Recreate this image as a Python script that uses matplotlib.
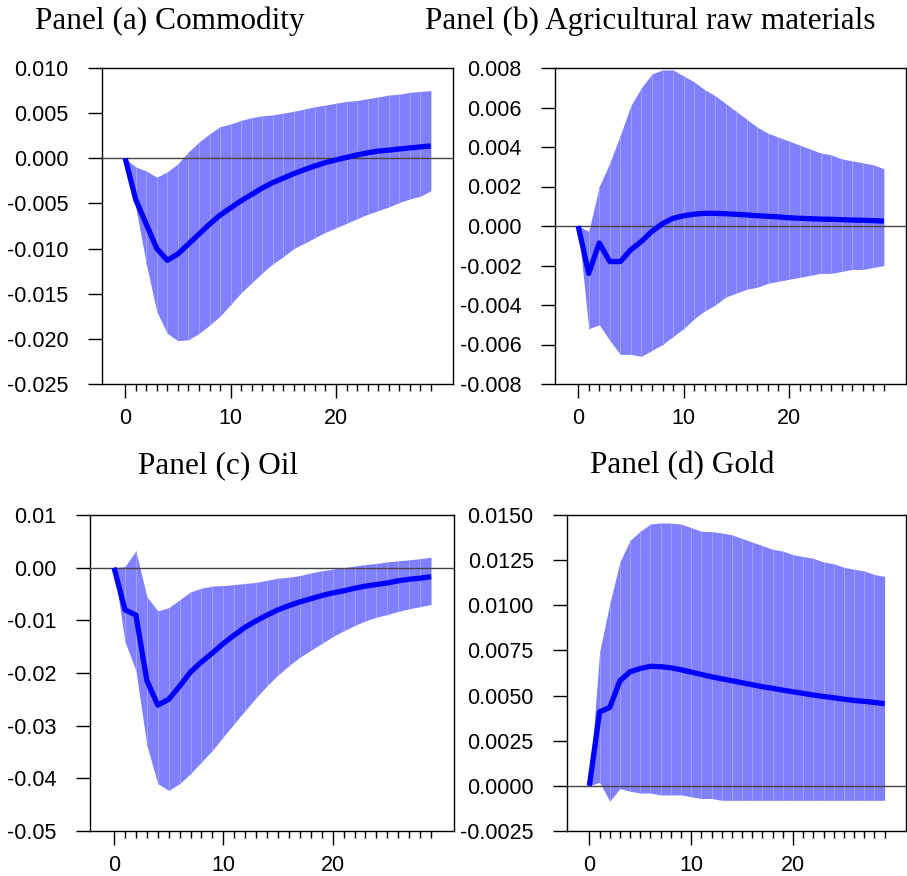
import matplotlib
matplotlib.use("Agg")
import matplotlib.pyplot as plt
import numpy as np

steps = list(range(30))

titles = ["Panel (a) Commodity", "Panel (b) Agricultural raw materials",
          "Panel (c) Oil", "Panel (d) Gold"]

a_mid = [0, -0.00458, -0.0073, -0.0100, -0.0113, -0.0106, -0.0095, -0.0084, -0.0073, -0.0063,
         -0.0055, -0.0047, -0.0040, -0.0033, -0.0027, -0.0022, -0.0017, -0.00126, -0.00085, -0.00048,
         -0.00018, 0.0001, 0.00037, 0.0006, 0.0008, 0.0009, 0.00103, 0.00115, 0.00126, 0.00137]
a_up = [0, -0.00096, -0.0014, -0.0021, -0.0015, -0.0006, 0.0007, 0.0018, 0.0027, 0.0035,
        0.0038, 0.0042, 0.0045, 0.0047, 0.0048, 0.0050, 0.0052, 0.00545, 0.0057, 0.0059,
        0.0061, 0.0063, 0.0064, 0.0066, 0.0068, 0.0070, 0.0071, 0.0073, 0.0074, 0.0075]
a_lo = [0, -0.0054, -0.0117, -0.0170, -0.0194, -0.0202, -0.0201, -0.0194, -0.0185, -0.0175,
        -0.0162, -0.0149, -0.0138, -0.0127, -0.0117, -0.0109, -0.0100, -0.0094, -0.0088, -0.0082,
        -0.0077, -0.0072, -0.0067, -0.0062, -0.0058, -0.0054, -0.0049, -0.0045, -0.0042, -0.0036]

b_mid = [0, -0.0024, -0.00086, -0.0018, -0.0018, -0.0012, -0.00078, -0.00027, 0.00012, 0.00039,
         0.00052, 0.0006, 0.00064, 0.00064, 0.00062, 0.00059, 0.00056, 0.00052, 0.00049, 0.00046,
         0.00042, 0.00039, 0.00037, 0.00035, 0.00034, 0.00032, 0.0003, 0.00029, 0.00027, 0.00025]
b_up = [0, -0.00027, 0.0020, 0.0032, 0.0046, 0.0061, 0.0070, 0.0077, 0.0079, 0.0079,
        0.0076, 0.0073, 0.0069, 0.0066, 0.0062, 0.0058, 0.0054, 0.0050, 0.0047, 0.0045,
        0.0043, 0.0041, 0.0039, 0.0037, 0.0036, 0.0034, 0.0033, 0.0032, 0.0031, 0.0029]
b_lo = [0, -0.0052, -0.0050, -0.0058, -0.0065, -0.0065, -0.0066, -0.0063, -0.0060, -0.0056,
        -0.0052, -0.0047, -0.0043, -0.0040, -0.0036, -0.0034, -0.0032, -0.0031, -0.0029, -0.0028,
        -0.0027, -0.0026, -0.0025, -0.0024, -0.0024, -0.0023, -0.0022, -0.0022, -0.0021, -0.0020]

c_mid = [0, -0.0080, -0.0090, -0.0214, -0.0261, -0.0250, -0.0225, -0.0198, -0.0179, -0.0162,
         -0.0144, -0.0128, -0.0113, -0.0101, -0.0090, -0.0080, -0.0072, -0.0065, -0.0059, -0.0053,
         -0.0048, -0.0044, -0.0039, -0.0035, -0.0032, -0.0029, -0.0025, -0.0022, -0.0020, -0.0017]
c_up = [0, 0.0002, 0.0032, -0.0055, -0.0082, -0.0076, -0.0061, -0.0046, -0.0039, -0.0035,
        -0.0034, -0.0032, -0.0030, -0.0028, -0.0024, -0.0020, -0.0018, -0.0015, -0.0010, -0.0006,
        -0.0003, 0.0, 0.0003, 0.0006, 0.0008, 0.0011, 0.0013, 0.0015, 0.0017, 0.0020]
c_lo = [0, -0.0141, -0.0195, -0.0337, -0.0410, -0.0423, -0.0410, -0.0391, -0.0369, -0.0347,
        -0.0321, -0.0296, -0.0271, -0.0247, -0.0224, -0.0204, -0.0186, -0.0170, -0.0157, -0.0144,
        -0.0131, -0.0120, -0.0110, -0.0101, -0.0094, -0.0089, -0.0083, -0.0078, -0.0074, -0.0070]

d_mid = [0, 0.00410, 0.00434, 0.00582, 0.00632, 0.00650, 0.00662, 0.00660, 0.00654, 0.00643,
         0.00630, 0.00617, 0.00604, 0.00593, 0.00582, 0.00571, 0.00560, 0.00549, 0.00540, 0.00530,
         0.00521, 0.00512, 0.00503, 0.00495, 0.00488, 0.00480, 0.00473, 0.00468, 0.00462, 0.00455]
d_up = [0, 0.0074, 0.0101, 0.0124, 0.0136, 0.0141, 0.0145, 0.01456, 0.01455, 0.0145,
        0.0143, 0.0141, 0.01408, 0.0140, 0.0139, 0.0137, 0.0135, 0.0133, 0.0131, 0.0130,
        0.0128, 0.0127, 0.0126, 0.0124, 0.0123, 0.0121, 0.0120, 0.0119, 0.0117, 0.0116]
d_lo = [0, 0.0002, -0.00085, -0.00015, -0.0003, -0.0004, -0.0004, -0.0005, -0.0005, -0.0005,
        -0.0006, -0.0007, -0.0007, -0.0008, -0.0008, -0.0008, -0.0008, -0.0008, -0.0008, -0.0008,
        -0.0008, -0.0008, -0.0008, -0.0008, -0.0008, -0.0008, -0.0008, -0.0008, -0.0008, -0.0008]

ytick_sets = [
    (["0.010", "0.005", "0.000", "-0.005", "-0.010", "-0.015", "-0.020", "-0.025"]),
    (["0.008", "0.006", "0.004", "0.002", "0.000", "-0.002", "-0.004", "-0.006", "-0.008"]),
    (["0.01", "0.00", "-0.01", "-0.02", "-0.03", "-0.04", "-0.05"]),
    (["0.0150", "0.0125", "0.0100", "0.0075", "0.0050", "0.0025", "0.0000", "-0.0025"]),
]
xtick_labels = ["0", "10", "20"]

series = [(a_mid, a_up, a_lo), (b_mid, b_up, b_lo), (c_mid, c_up, c_lo), (d_mid, d_up, d_lo)]

W, H = 907, 876
fig = plt.figure(figsize=(W / 100, H / 100), dpi=100)

# axes boxes in pixels: left, right, top, bottom
boxes = [(102, 453, 68, 384), (555, 906, 68, 384), (90, 454, 515, 831), (567, 906, 515, 831)]
title_pos = [(170, 21), (650, 21), (218, 466), (682, 466)]

for i, ((mid, up, lo), (l, r, t, b), labels) in enumerate(zip(series, boxes, ytick_sets)):
    ax = fig.add_axes([l / W, 1 - b / H, (r - l) / W, (b - t) / H])
    x = np.array(steps)
    ax.fill_between(x, lo, up, color="#8080FF", linewidth=0, zorder=1)
    ax.vlines(x[1:-1], np.array(lo)[1:-1], np.array(up)[1:-1], colors="#A0A0FF", linewidth=0.7, zorder=2)
    ax.axhline(0, color="#444444", linewidth=1.0, zorder=3)
    ax.plot(x, mid, color="#0000FF", linewidth=3.8, solid_capstyle="butt", zorder=4)
    vals = [float(s) for s in labels]
    ax.set_ylim(min(vals), max(vals))
    ax.set_yticks(vals)
    ax.set_yticklabels(labels, fontfamily="Liberation Sans", fontsize=15.5)
    ax.set_xlim(-2.2, 31.1)
    ax.set_xticks([0, 10, 20])
    ax.set_xticklabels(xtick_labels, fontfamily="Liberation Sans", fontsize=15.5)
    ax.set_xticks(range(0, 30), minor=True)
    ax.tick_params(axis="y", direction="out", length=10, width=1, pad=14, colors="black")
    ax.tick_params(axis="x", which="major", direction="out", length=10, width=1, pad=7)
    ax.tick_params(axis="x", which="minor", direction="out", length=5, width=1)
    for sp in ax.spines.values():
        sp.set_linewidth(1.0)
        sp.set_color("black")
    tx, ty = title_pos[i]
    fig.text(tx / W, 1 - ty / H, titles[i], ha="center", va="center",
             fontfamily="Liberation Serif", fontsize=22.5)

fig.savefig("out.png", dpi=100)
